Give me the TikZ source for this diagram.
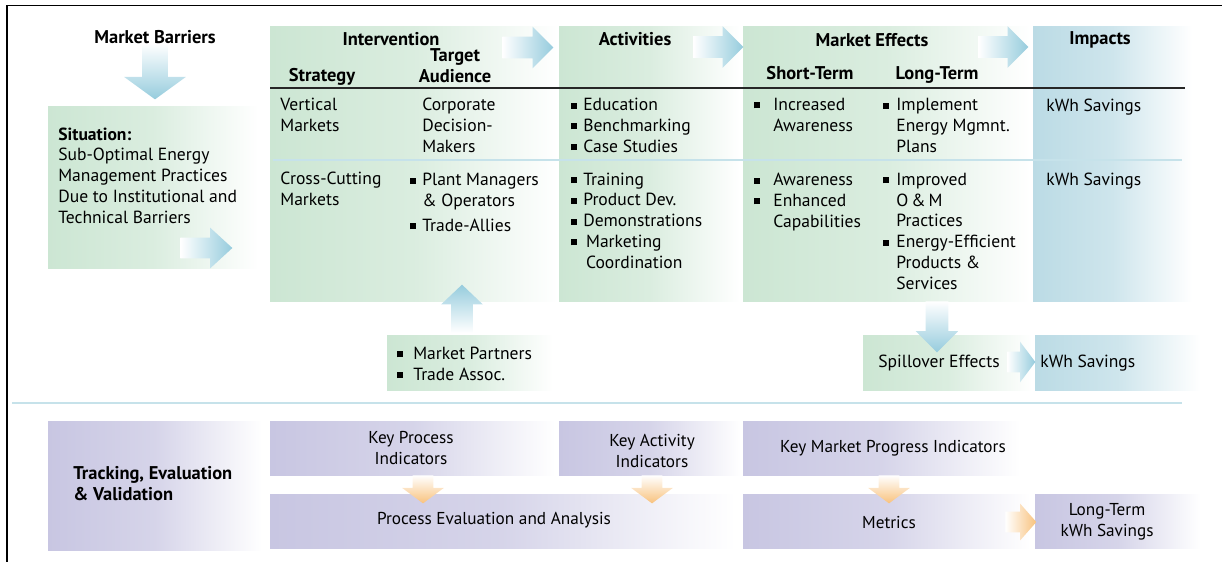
\documentclass[tikz,border=0pt]{standalone}
\usepackage{fontspec}
\setmainfont{PT Sans}
\usetikzlibrary{fit,shapes.arrows}

\definecolor{boxgreen}{RGB}{204,230,211}
\definecolor{boxblue}{RGB}{187,219,229}
\definecolor{boxpurple}{RGB}{200,198,226}
\definecolor{arrowblue}{RGB}{150,204,221}
\definecolor{arroworange}{RGB}{248,194,125}
\definecolor{rulelight}{RGB}{198,226,234}

% square bullet, optional gap to the text
\newcommand{\sqb}[1][3.4pt]{\raisebox{1.1pt}{\rule{3.4pt}{3.4pt}}\hspace{#1}}
\newcommand{\nosqb}[1][3.4pt]{\hspace{\dimexpr3.4pt+#1\relax}}

\tikzset{ box_green/.style = { inner sep = 0pt % panel
        , draw = none
        , left color = boxgreen
        , right color = white
        , middle color = boxgreen!72!white
        }
        , box_blue/.style = { box_green
        , left color = boxblue
        , right color = white
        , middle color = boxblue!72!white
        }
        , box_purple/.style = { box_green
        , left color = boxpurple
        , right color = white
        , middle color = boxpurple!75!white
        }
        , block_arrow/.style = { single arrow % fat arrow
        , draw = none
        , anchor = tail
        , inner sep = 0pt
        , single arrow head extend = 0.2cm
        , single arrow tip angle = 90
        }
        }

\begin{document}
\begin{tikzpicture}[x=0.02cm, y=-0.02cm,
        body/.style={inner sep=0pt, anchor=base west, align=left, font=\fontsize{10}{11.8}\selectfont},
        head/.style={inner sep=0pt, anchor=base, align=center, font=\fontsize{10.5}{11.8}\selectfont\bfseries},
        small_head/.style={inner sep=0pt, anchor=center, align=center, font=\fontsize{9.8}{11.8}\selectfont},
        arrow_right/.style={block_arrow, inner ysep=0.2cm, left color=white, right color=arrowblue},
        arrow_down/.style={block_arrow, inner xsep=0.2cm, shape border rotate=270, top color=white, bottom color=arrowblue},
        arrow_up/.style={block_arrow, inner xsep=0.2cm, shape border rotate=90, top color=arrowblue, bottom color=white},
        orange_down/.style={block_arrow, inner xsep=0.2cm, shape border rotate=270, top color=white, bottom color=arroworange},
        orange_right/.style={block_arrow, inner ysep=0.2cm, left color=white, right color=arroworange},
        rule_style/.style={draw=rulelight, line width=0.8pt}]
        \useasboundingbox (0,0) rectangle (1222,562);

        % frame
        \draw [line width=0.9pt] (1222,5.5) -- (7,5.5) -- (7,562);

        % panels
        \node [box_green, fit={(48,106) (258,268)}] (situation) {};
        \node [box_green, fit={(270,26) (558,301)}] (interv) {};
        \node [box_green, fit={(559,26) (740,301)}] (activ) {};
        \node [box_green, fit={(743,26) (1030,301)}] (effects) {};
        \node [box_blue, fit={(1033,26) (1192,301)}] (impacts) {};
        \node [box_green, fit={(387,335) (553,390)}] (partners) {};
        \node [box_green, fit={(863,335) (1032,390)}] (spill) {};
        \node [box_blue, fit={(1035,335) (1200,390)}] (spillsav) {};
        \node [box_purple, fit={(48,421) (262,550)}] (track) {};
        \node [box_purple, fit={(270,421) (555,475)}] (kpi) {};
        \node [box_purple, fit={(559,421) (741,475)}] (kai) {};
        \node [box_purple, fit={(743,421) (1020,475)}] (kmpi) {};
        \node [box_purple, fit={(270,494) (735,548)}] (peval) {};
        \node [box_purple, fit={(743,494) (1030,548)}] (metrics) {};
        \node [box_purple, fit={(1035,494) (1200,548)}] (ltsav) {};

        % table rules
        \draw [line width=0.7pt, black!85] (270,88) -- (1185,88);
        \draw [rule_style] (273,160) -- (1182,160);
        \draw [rule_style] (12,403) -- (1182,403);

        % fat arrows
        \node [arrow_down, minimum height=1.12cm, inner xsep=0.25cm, single arrow head extend=0.36cm, single arrow tip angle=108] (a1) at (155,43) {};
        \node [arrow_right, minimum height=1.04cm, single arrow tip angle=85] (a2) at (180,248) {};
        \node [arrow_right, minimum height=1.02cm, inner ysep=0.21cm] (a3) at (502,47.5) {};
        \node [arrow_right, minimum height=1.0cm, inner ysep=0.21cm] (a4) at (693,47) {};
        \node [arrow_right, minimum height=1.0cm, inner ysep=0.21cm] (a5) at (978,47) {};
        \node [arrow_up, minimum height=0.96cm, inner xsep=0.21cm, single arrow tip angle=93] (a6) at (462,333) {};
        \node [arrow_down, minimum height=1.02cm, inner xsep=0.22cm] (a7) at (937,301) {};
        \node [arrow_right, minimum height=0.56cm, single arrow tip angle=106] (a8) at (1007,362) {};
        \node [orange_down, minimum height=0.56cm, single arrow head extend=0.21cm, single arrow tip angle=107] (o1) at (423,475) {};
        \node [orange_down, minimum height=0.56cm, single arrow head extend=0.21cm, single arrow tip angle=107] (o2) at (652,475) {};
        \node [orange_down, minimum height=0.56cm, single arrow head extend=0.21cm, single arrow tip angle=107] (o3) at (889,475) {};
        \node [orange_right, minimum height=0.62cm, single arrow head extend=0.16cm, single arrow tip angle=97] (o4) at (1005,522) {};

        % headings (multi-line nodes sit on their last baseline)
        \node [head] (t_barriers) at (155,43) {Market Barriers};
        \node [head] (t_interv) at (391,45) {Intervention};
        \node [head] (t_strategy) at (322,81) {Strategy};
        \node [head] (t_target) at (455,82) {Target\\Audience};
        \node [head] (t_activ) at (635,45) {Activities};
        \node [head] (t_effects) at (872,46) {Market Effects};
        \node [head] (t_short) at (810,79) {Short-Term};
        \node [head] (t_long) at (937,79) {Long-Term};
        \node [head] (t_impacts) at (1100,44) {Impacts};

        % cells
        \node [body] (t_situation) at (58,223) {\textbf{Situation:}\\Sub-Optimal Energy\\Management Practices\\Due to Institutional and\\Technical Barriers};
        \node [body] (t_vert) at (280,131) {Vertical\\Markets};
        \node [body] (t_corp) at (422,152) {Corporate\\Decision-\\Makers};
        \node [body] (t_cross) at (280,205) {Cross-Cutting\\Markets};
        \node [body] (t_plant) at (410,231) {\sqb Plant Managers\\\nosqb\&~Operators\\[2.3pt]\sqb Trade-Allies};
        \node [body] (t_edu) at (571,152) {\sqb Education\\\sqb Benchmarking\\\sqb Case Studies};
        \node [body] (t_train) at (571,268) {\sqb Training\\\sqb Product Dev.\\\sqb Demonstrations\\\sqb[5pt]Marketing\\\nosqb[5pt]Coordination};
        \node [body] (t_aware1) at (754,131) {\sqb[7.4pt]Increased\\\nosqb[7.4pt]Awareness};
        \node [body] (t_aware2) at (754,227) {\sqb[7.4pt]Awareness\\\sqb[7.4pt]Enhanced\\\nosqb[7.4pt]Capabilities};
        \node [body] (t_plans) at (883,152) {\sqb[4pt]Implement\\\nosqb[4pt]Energy Mgmnt.\\\nosqb[4pt]Plans};
        \node [body] (t_om) at (883,289) {\sqb[4pt]Improved\\\nosqb[4pt]O\,\&\,M\\\nosqb[4pt]Practices\\\sqb[4pt]Energy-Efficient\\\nosqb[4pt]Products \&\\\nosqb[4pt]Services};
        \node [body] (t_sav1) at (1046,111) {kWh Savings};
        \node [body] (t_sav2) at (1046,185) {kWh Savings};
        \node [body] (t_partners) at (397,380) {\sqb[5.7pt]Market Partners\\\sqb[5.7pt]Trade Assoc.};
        \node [body] (t_spill) at (878,367) {Spillover Effects};
        \node [body] (t_spillsav) at (1040,367) {kWh Savings};

        % tracking row
        \node [body, font=\fontsize{10.5}{11.8}\selectfont\bfseries] (t_track) at (73,500) {Tracking, Evaluation\\\&~Validation};
        \node [small_head] (t_kpi) at (411,448) {Key Process\\Indicators};
        \node [small_head] (t_kai) at (652,451) {Key Activity\\Indicators};
        \node [small_head] (t_kmpi) at (893,448) {Key Market Progress Indicators};
        \node [small_head] (t_peval) at (494,520) {Process Evaluation and Analysis};
        \node [small_head] (t_metrics) at (889,522) {Metrics};
        \node [small_head] (t_ltsav) at (1107,522) {Long-Term\\kWh Savings};
\end{tikzpicture}
\end{document}
